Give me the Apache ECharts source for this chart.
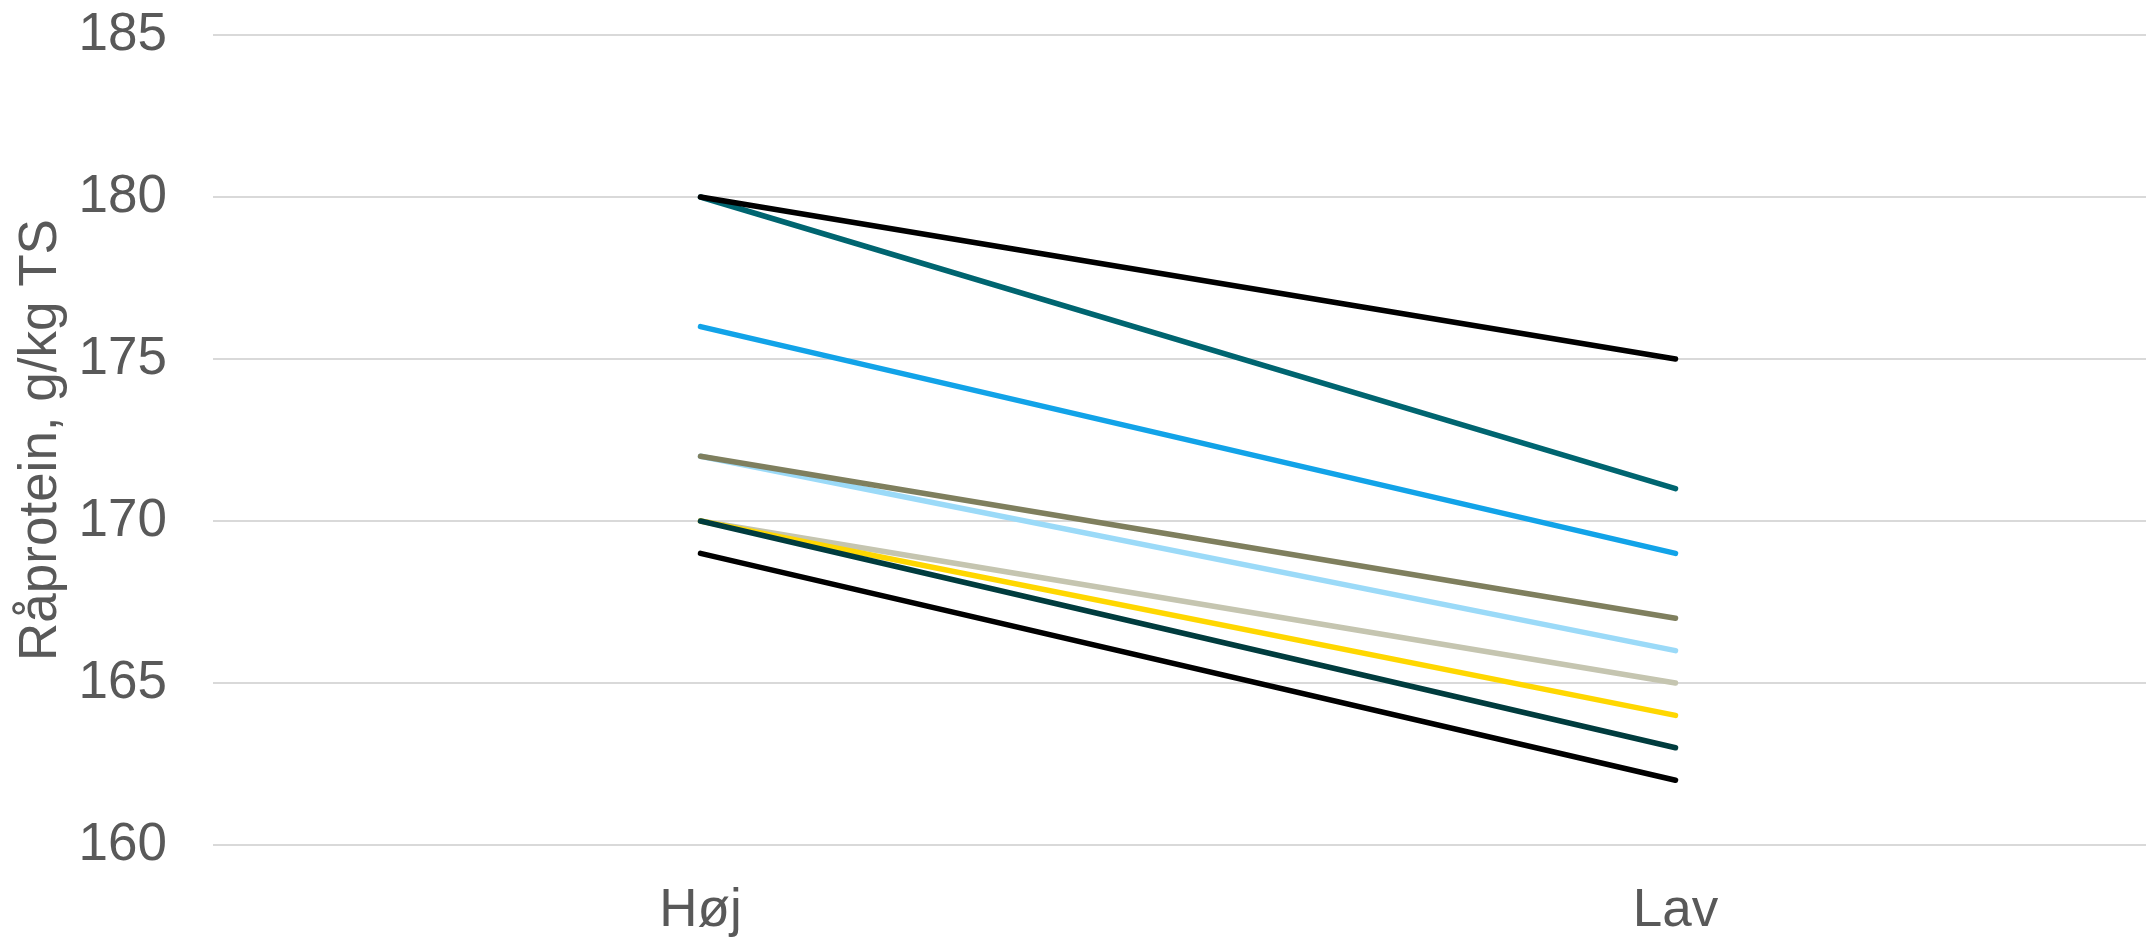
<!DOCTYPE html>
<html>
<head>
<meta charset="utf-8">
<script src="https://cdn.jsdelivr.net/npm/echarts@6/dist/echarts.min.js"></script>
<style>
html,body{margin:0;padding:0;background:#fff;overflow:hidden;width:2146px;height:938px;}
#chart{width:2163px;height:938px;}
</style>
</head>
<body>
<div id="chart"></div>
<script>
const categories = ['Høj', 'Lav'];
const yAxisTitle = 'Råprotein, g/kg TS';
const yTicks = [160, 165, 170, 175, 180, 185];

// series values (Høj, Lav), listed in drawing order (later on top)
const sLightBlue = [172, 166];
const sOlive = [172, 167];
const sBeige = [170, 165];
const sYellow = [170, 164];
const sDarkTeal = [170, 163];
const sTeal = [180, 171];
const sBlack1 = [180, 175];
const sBlue = [176, 169];
const sBlack2 = [169, 162];

const seriesList = [
  { name: 'S5', data: sLightBlue, color: '#9BDAF8' },
  { name: 'S4', data: sOlive, color: '#7F7F5E' },
  { name: 'S6', data: sBeige, color: '#C5C5B0' },
  { name: 'S7', data: sYellow, color: '#FFD700' },
  { name: 'S8', data: sDarkTeal, color: '#003C3E' },
  { name: 'S2', data: sTeal, color: '#006570' },
  { name: 'S1', data: sBlack1, color: '#000000' },
  { name: 'S3', data: sBlue, color: '#12A3E8' },
  { name: 'S9', data: sBlack2, color: '#000000' }
];

const chart = echarts.init(document.getElementById('chart'), null, { renderer: 'canvas' });
chart.setOption({
  animation: false,
  backgroundColor: '#ffffff',
  textStyle: { fontFamily: 'Liberation Sans, Arial, sans-serif' },
  grid: { left: 213, right: 0, top: 35, height: 812, containLabel: false },
  xAxis: {
    type: 'category',
    data: categories,
    boundaryGap: true,
    axisLine: { show: false },
    axisTick: { show: false },
    axisLabel: { color: '#595959', fontSize: 53, margin: 40, fontFamily: 'Liberation Sans, Arial, sans-serif' }
  },
  yAxis: {
    type: 'value',
    min: yTicks[0],
    max: yTicks[yTicks.length - 1],
    interval: 5,
    name: yAxisTitle,
    nameLocation: 'middle',
    nameGap: 145,
    nameRotate: 90,
    nameTextStyle: { color: '#595959', fontSize: 53, fontFamily: 'Liberation Sans, Arial, sans-serif' },
    axisLine: { show: false },
    axisTick: { show: false },
    axisLabel: { color: '#595959', fontSize: 53, margin: 46, fontFamily: 'Liberation Sans, Arial, sans-serif' },
    splitLine: { lineStyle: { color: '#D9D9D9', width: 2 } }
  },
  series: seriesList.map(s => ({
    name: s.name,
    type: 'line',
    data: s.data,
    symbol: 'none',
    lineStyle: { color: s.color, width: 5.5, cap: 'round', join: 'round' },
    itemStyle: { color: s.color }
  }))
});
</script>
</body>
</html>
